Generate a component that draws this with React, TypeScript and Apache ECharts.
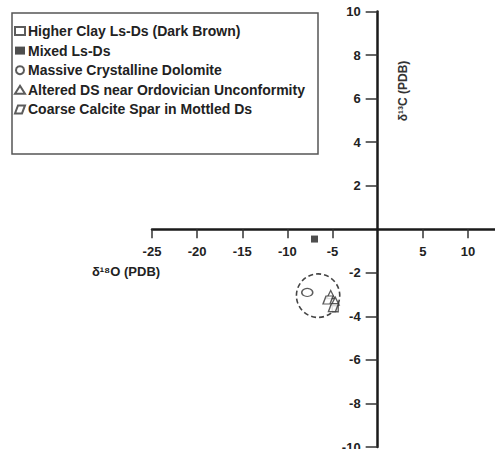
import React, { useEffect, useRef } from "react";
import * as echarts from "echarts";

const xTickValues = [-25, -20, -15, -10, -5, 5, 10];
const yTickValues = [-10, -8, -6, -4, -2, 2, 4, 6, 8, 10];

const higherClay = [[-4.7, -3.65]];
const mixedLsDs = [[-7.0, -0.45]];
const massiveDolomite = [[-7.8, -2.9]];
const alteredDs = [[-5.2, -3.0], [-4.7, -3.3]];
const coarseSpar = [[-5.5, -3.25], [-4.9, -3.6]];
const envelope = [[-6.6, -3.05, 2.4, 1.0]];

const names = [
  "Higher Clay Ls-Ds (Dark Brown)",
  "Mixed Ls-Ds",
  "Massive Crystalline Dolomite",
  "Altered DS near Ordovician Unconformity",
  "Coarse Calcite Spar in Mottled Ds",
];

const FONT = "'Liberation Sans', Arial, sans-serif";
const INK = "#222";
const openStyle = { color: "#fff", borderColor: "#333", borderWidth: 1.3 };

const GRID_LEFT = 152;
const GRID_TOP = 11.5;
const GRID_W = 343;
const GRID_H = 435.5;

export default function App() {
  const ref = useRef<HTMLDivElement>(null);
  useEffect(() => {
    if (!ref.current) return;
    const chart = echarts.init(ref.current, null, { renderer: "svg" });
    const xMin = -25, xMax = 13, yMin = -10, yMax = 10;
    const yAxisOffset = -((0 - xMin) / (xMax - xMin)) * GRID_W;
    const xAxisOffset = -((0 - yMin) / (yMax - yMin)) * GRID_H;
    chart.setOption({
      animation: false,
      backgroundColor: "#fff",
      textStyle: { fontFamily: FONT },
      grid: {
        left: GRID_LEFT,
        top: GRID_TOP,
        width: GRID_W,
        height: GRID_H,
        outerBoundsMode: "none",
        containLabel: false,
      },
      xAxis: {
        type: "value",
        position: "bottom",
        offset: xAxisOffset,
        min: xMin,
        max: xMax,
        interval: 5,
        axisLine: { onZero: false, lineStyle: { color: "#1a1a1a", width: 2.5 } },
        axisTick: { customValues: xTickValues, length: 9, lineStyle: { color: "#333", width: 1.5 } },
        axisLabel: {
          customValues: xTickValues,
          margin: 16,
          color: INK,
          fontWeight: "bold",
          fontSize: 13,
          fontFamily: FONT,
        },
        splitLine: { show: false },
      },
      yAxis: {
        type: "value",
        position: "left",
        offset: yAxisOffset,
        min: yMin,
        max: yMax,
        interval: 2,
        axisLine: { onZero: false, lineStyle: { color: "#1a1a1a", width: 2.5 } },
        axisTick: { customValues: yTickValues, length: 12, lineStyle: { color: "#333", width: 1.5 } },
        axisLabel: {
          customValues: yTickValues,
          margin: 17,
          color: INK,
          fontWeight: "bold",
          fontSize: 13,
          fontFamily: FONT,
        },
        splitLine: { show: false },
      },
      graphic: [
        {
          type: "rect",
          shape: { x: 12, y: 13, width: 306, height: 141 },
          style: { fill: "#fff", stroke: "#555", lineWidth: 1.5 },
          z: 0,
        },
        {
          type: "text",
          x: 126,
          y: 271,
          style: {
            text: "δ¹⁸O (PDB)",
            fill: INK,
            font: `bold 13px ${FONT}`,
            textAlign: "center",
            textVerticalAlign: "middle",
          },
        },
        {
          type: "text",
          x: 403,
          y: 91,
          rotation: Math.PI / 2,
          style: {
            text: "δ¹³C (PDB)",
            fill: "#333",
            font: `bold 12px ${FONT}`,
            textAlign: "center",
            textVerticalAlign: "middle",
          },
        },
      ],
      legend: {
        data: names,
        orient: "vertical",
        left: 14,
        top: 24,
        itemGap: 5.6,
        itemWidth: 10,
        itemHeight: 8,
        padding: 0,
        textStyle: { color: INK, fontWeight: "bold", fontSize: 14, fontFamily: FONT, padding: [0, 0, 0, -2] },
        z: 10,
      },
      series: [
        {
          name: "envelope",
          type: "custom",
          data: envelope,
          renderItem: (params: any, api: any) => {
            const c = api.coord([api.value(0), api.value(1)]);
            const s = api.size([api.value(2), api.value(3)]);
            return {
              type: "ellipse",
              shape: { cx: c[0], cy: c[1], rx: s[0], ry: s[1] },
              style: { fill: "none", stroke: "#444", lineWidth: 1.6, lineDash: [5, 3] },
            };
          },
          silent: true,
          z: 1,
        },
        {
          name: names[0],
          type: "scatter",
          symbol: "rect",
          symbolSize: 6,
          data: higherClay,
          itemStyle: openStyle,
          z: 3,
        },
        {
          name: names[1],
          type: "scatter",
          symbol: "rect",
          symbolSize: 7,
          data: mixedLsDs,
          itemStyle: { color: "#222" },
          z: 3,
        },
        {
          name: names[2],
          type: "scatter",
          symbol: "circle",
          symbolSize: [11, 8],
          data: massiveDolomite,
          itemStyle: openStyle,
          z: 3,
        },
        {
          name: names[3],
          type: "scatter",
          symbol: "triangle",
          symbolSize: [8, 8],
          data: alteredDs,
          itemStyle: openStyle,
          z: 3,
        },
        {
          name: names[4],
          type: "scatter",
          symbol: "path://M3,0 L10,0 L7,8 L0,8 Z",
          symbolSize: [10, 8],
          data: coarseSpar,
          itemStyle: openStyle,
          z: 3,
        },
      ],
    });
    return () => chart.dispose();
  }, []);
  return (
    <div
      ref={ref}
      style={{ position: "fixed", left: 0, top: 0, width: 495, height: 449, background: "#fff" }}
    />
  );
}
